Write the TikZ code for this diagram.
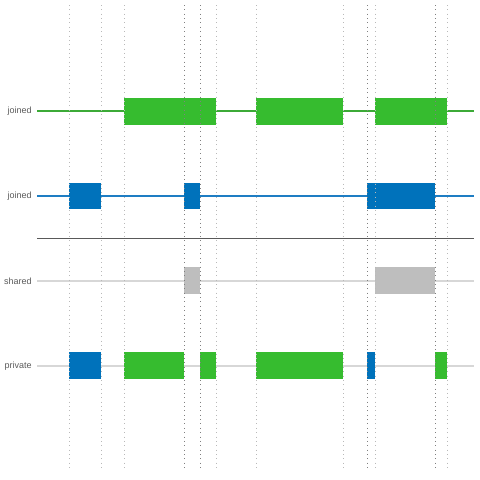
\documentclass[tikz,border=0pt]{standalone}
\usepackage{fontspec}
\setmainfont{Liberation Sans}
\definecolor{trackgreen}{RGB}{54,188,47}
\definecolor{linegreen}{RGB}{60,170,55}
\definecolor{trackblue}{RGB}{0,114,187}
\definecolor{lineblue}{RGB}{30,125,195}
\definecolor{trackgray}{RGB}{190,190,190}
\definecolor{railgray}{RGB}{215,215,215}
\definecolor{labelgray}{RGB}{90,90,90}
\tikzset{
  tracklabel/.style={anchor=east, text=labelgray, inner sep=0pt,
    font=\fontsize{6.4}{8}\selectfont},
  rail/.style={line width=0.75pt},
  gridline/.style={gray!55, line width=0.6pt, dash pattern=on 0.6pt off 2.5pt},
  gridstrong/.style={gray, line width=0.6pt, dash pattern=on 0.6pt off 2.5pt},
}
\begin{document}
\begin{tikzpicture}[x=0.025cm, y=-0.025cm]
  \useasboundingbox (0,0) rectangle (480,480);

  % labels
  \node[tracklabel] (lab1) at (32,111.5) {joined};
  \node[tracklabel] (lab2) at (32,196.5) {joined};
  \node[tracklabel] (lab3) at (32,281.5) {shared};
  \node[tracklabel] (lab4) at (32,366.5) {private};

  % rails
  \draw[rail, linegreen] (37,111) -- (474,111);
  \draw[rail, lineblue] (37,196) -- (474,196);
  \draw[rail, railgray] (37,281) -- (474,281);
  \draw[rail, railgray] (37,366) -- (474,366);
  \draw[gray!70!black, line width=0.7pt] (37,238) -- (474,238);

  % row 1
  \fill[trackgreen] (124,98) rectangle (216,125);
  \fill[trackgreen] (256,98) rectangle (343,125);
  \fill[trackgreen] (375,98) rectangle (447,125);

  % row 2
  \fill[trackblue] (69,183) rectangle (101,209);
  \fill[trackblue] (184,183) rectangle (200,209);
  \fill[trackblue] (367,183) rectangle (435,209);

  % row 3
  \fill[trackgray] (184,267) rectangle (200,294);
  \fill[trackgray] (375,267) rectangle (435,294);

  % row 4
  \fill[trackblue] (69,352) rectangle (101,379);
  \fill[trackgreen] (124,352) rectangle (184,379);
  \fill[trackgreen] (200,352) rectangle (216,379);
  \fill[trackgreen] (256,352) rectangle (343,379);
  \fill[trackblue] (367,352) rectangle (375,379);
  \fill[trackgreen] (435,352) rectangle (447,379);

  % cut lines
  \foreach \xc in {69,101,124,216,256,343,375,447}
    \draw[gridline] (\xc,5) -- (\xc,471);
  \foreach \xc in {184,200,367,435}
    \draw[gridstrong] (\xc,5) -- (\xc,471);
\end{tikzpicture}
\end{document}
